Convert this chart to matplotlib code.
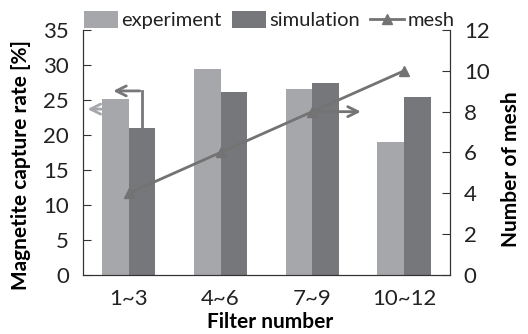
import matplotlib.pyplot as plt
import numpy as np

plt.rcParams['font.family'] = ['Lato', 'DejaVu Sans']

categories = ['1~3', '4~6', '7~9', '10~12']
experiment = [25.2, 29.4, 26.6, 19.0]
simulation = [21.0, 26.2, 27.4, 25.5]
mesh = [4, 6, 8, 10]

c_exp = '#a6a7aa'
c_sim = '#76777b'
c_mesh = '#737373'

fig = plt.figure(figsize=(5.28, 3.34), dpi=100)
ax = fig.add_axes([0.157, 0.177, 0.695, 0.733])
ax2 = ax.twinx()

x = np.arange(len(categories))
w = 0.29
ax.bar(x - w/2, experiment, w, color=c_exp, label='experiment', zorder=2)
ax.bar(x + w/2, simulation, w, color=c_sim, label='simulation', zorder=2)
ax2.plot(x, mesh, color=c_mesh, lw=2, marker='^', ms=7, label='mesh')

ax.set_xlim(-0.5, 3.5)
ax.set_ylim(0, 35)
ax.set_yticks(range(0, 36, 5))
ax2.set_ylim(0, 12)
ax2.set_yticks(range(0, 13, 2))
ax.set_xticks(x)
ax.set_xticklabels(categories)

for a in (ax, ax2):
    a.spines['top'].set_visible(False)
    for s in a.spines.values():
        s.set_color('#333333')
    a.tick_params(axis='y', direction='in', length=6, colors='#333333',
                  labelcolor='#222222', labelsize=16, pad=10)
ax.tick_params(axis='x', length=0, labelsize=16, pad=10, labelcolor='#222222')

ax.set_ylabel('Magnetite capture rate [%]', fontsize=15, fontweight='bold')
ax.yaxis.set_label_coords(-0.142, 0.45)
ax2.set_ylabel('Number of mesh', fontsize=15, fontweight='bold')
ax2.yaxis.set_label_coords(1.14, 0.43)
ax.set_xlabel('Filter number', fontsize=15, fontweight='bold')
ax.xaxis.set_label_coords(0.51, -0.15)

# arrows pointing to the corresponding axis
ax.annotate('', xy=(-0.48, 23.7), xytext=(-0.2, 23.7),
            arrowprops=dict(arrowstyle='->', color=c_exp, lw=2, mutation_scale=18))
ax.plot([0.14, 0.14], [21.0, 26.3], color=c_sim, lw=2, zorder=3)
ax.annotate('', xy=(-0.2, 26.3), xytext=(0.15, 26.3),
            arrowprops=dict(arrowstyle='->', color=c_sim, lw=2, mutation_scale=18))
ax2.annotate('', xy=(2.56, 8), xytext=(2.0, 8),
             arrowprops=dict(arrowstyle='->', color=c_mesh, lw=2, mutation_scale=18))

h1, l1 = ax.get_legend_handles_labels()
h2, l2 = ax2.get_legend_handles_labels()
fig.legend(h1 + h2, l1 + l2, loc='center', bbox_to_anchor=(0.51, 0.94), ncol=3,
           frameon=False, fontsize=14.5, handlelength=1.7, handleheight=0.9,
           handletextpad=0.15, columnspacing=0.5, labelcolor='#222222',
           borderpad=0.1)

fig.savefig('out.png', dpi=100)
